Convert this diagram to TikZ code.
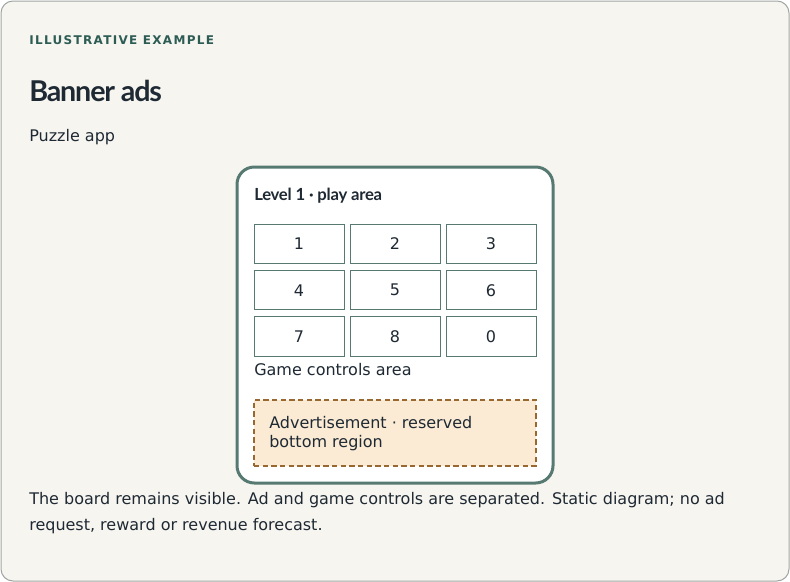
\documentclass[tikz,border=0pt]{standalone}
\usepackage{fontspec}
\setmainfont{DejaVu Sans}
\newfontfamily\headfont[LetterSpace=-4]{Lato}
\newfontfamily\levelfont[LetterSpace=-1.5]{Lato}
\newfontfamily\kickerfont[LetterSpace=11]{DejaVu Sans}
\usetikzlibrary{positioning}
\definecolor{mpaper}{RGB}{247,245,240}
\definecolor{mframe}{RGB}{160,166,164}
\definecolor{mteal}{RGB}{86,122,114}
\definecolor{mkicker}{RGB}{44,92,84}
\definecolor{mink}{RGB}{30,41,51}
\definecolor{madfill}{RGB}{251,235,213}
\definecolor{madline}{RGB}{152,104,48}

\begin{document}
\begin{tikzpicture}[x=0.75pt,y=-0.75pt,
    txt/.style={anchor=base west,inner sep=0pt,text=mink,font=\fontsize{12}{19.5}\selectfont},
    cell/.style={draw=mteal,line width=0.75pt,fill=white,minimum width=67.5pt,minimum height=29.6pt,
      inner sep=0pt,outer sep=0pt,text=mink,font=\fontsize{12}{14}\selectfont}]
  \useasboundingbox (0,0) rectangle (790,582);
  % outer card
  \path[draw=mframe,fill=mpaper,line width=0.75pt,rounded corners=9pt] (1,1) rectangle (789,581);
  \node[txt,text=mkicker,font=\kickerfont\bfseries\fontsize{9}{11}\selectfont] (kicker) at (29,44) {ILLUSTRATIVE EXAMPLE};
  \node[txt,font=\headfont\bfseries\fontsize{21.5}{24}\selectfont] (title) at (29,101) {Banner ads};
  \node[txt] (sub) at (29,141) {Puzzle app};
  % phone frame
  \path[draw=mteal,fill=white,line width=2.25pt,rounded corners=13pt] (237,167) rectangle (553,483);
  \node[txt,font=\levelfont\bfseries\fontsize{12.5}{14}\selectfont] (level) at (254,200) {Level 1 · play area};
  % grid of buttons
  \node[cell] (c1) at (299,243.75) {1};
  \node[cell,right=4.5pt of c1] (c2) {2};
  \node[cell,right=4.5pt of c2] (c3) {3};
  \node[cell,below=5.25pt of c1] (c4) {4};
  \node[cell,right=4.5pt of c4] (c5) {5};
  \node[cell,right=4.5pt of c5] (c6) {6};
  \node[cell,below=5.25pt of c4] (c7) {7};
  \node[cell,right=4.5pt of c7] (c8) {8};
  \node[cell,right=4.5pt of c8] (c9) {0};
  \node[txt] (ctrl) at (254,375) {Game controls area};
  % reserved ad slot
  \node[draw=madline,fill=madfill,line width=1.5pt,dash pattern=on 4pt off 2.5pt,
    minimum width=211.5pt,minimum height=49.5pt,inner sep=0pt,outer sep=0pt] (ad) at (395,433) {};
  \node[txt,align=left,anchor=north west,font=\fontsize{12}{14.25}\selectfont] (adtext) at (269,416.5)
    {Advertisement · reserved\\bottom region};
  % footer note
  \node[txt,align=left,anchor=north west] (note) at (29,492.5)
    {The board remains visible. Ad and game controls are separated. Static diagram; no ad\\request, reward or revenue forecast.};
\end{tikzpicture}
\end{document}
